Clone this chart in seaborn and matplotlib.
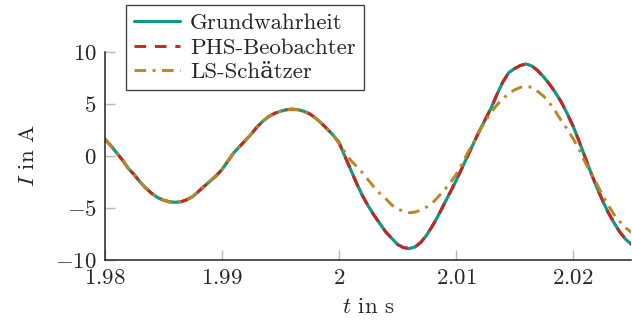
import numpy as np
import pandas as pd
import matplotlib
matplotlib.use("Agg")
import matplotlib.pyplot as plt
import seaborn as sns

# Zeitachse (0.5 ms Raster)
t = np.round(np.arange(1.980, 2.02501, 0.0005), 4)

grundwahrheit = [
    1.6, 1.0, 0.3, -0.4, -1.2, -1.8, -2.5, -3.1, -3.6, -4.0,
    -4.25, -4.4, -4.45, -4.4, -4.2, -3.9, -3.4, -2.9, -2.4, -1.9,
    -1.3, -0.5, 0.3, 0.9, 1.5, 2.1, 2.8, 3.35, 3.8, 4.1,
    4.3, 4.45, 4.5, 4.45, 4.3, 4.05, 3.65, 3.15, 2.6, 2.0,
    1.3, 0.0, -1.3, -2.6, -3.8, -4.8, -5.7, -6.5, -7.3, -7.9,
    -8.5, -8.8, -8.9, -8.75, -8.3, -7.6, -6.7, -5.7, -4.6, -3.5,
    -2.4, -1.2, 0.0, 1.2, 2.4, 3.5, 4.6, 5.9, 7.1, 8.0,
    8.4, 8.7, 8.85, 8.65, 8.2, 7.6, 6.9, 6.1, 5.2, 4.1,
    2.9, 1.5, 0.0, -1.5, -2.9, -4.2, -5.4, -6.4, -7.3, -8.0,
    -8.5,
]

phs_beobachter = list(grundwahrheit)

ls_schaetzer = [
    1.6, 1.0, 0.3, -0.4, -1.2, -1.8, -2.5, -3.1, -3.6, -4.0,
    -4.25, -4.4, -4.45, -4.4, -4.2, -3.9, -3.4, -2.9, -2.4, -1.9,
    -1.3, -0.5, 0.3, 0.9, 1.5, 2.1, 2.8, 3.35, 3.8, 4.1,
    4.3, 4.45, 4.5, 4.45, 4.3, 4.05, 3.65, 3.15, 2.6, 2.0,
    1.3, 0.4, -0.4, -1.0, -1.6, -2.3, -3.0, -3.6, -4.1, -4.7,
    -5.1, -5.3, -5.45, -5.4, -5.2, -4.9, -4.5, -3.9, -3.3, -2.6,
    -1.8, -0.8, 0.3, 1.3, 2.4, 3.3, 4.2, 4.9, 5.5, 6.0,
    6.35, 6.6, 6.7, 6.6, 6.2, 5.75, 5.1, 4.3, 3.4, 2.6,
    1.7, 0.7, -0.5, -1.6, -2.6, -3.7, -4.7, -5.6, -6.3, -6.9,
    -7.35,
]

x_ticks = [1.98, 1.99, 2.0, 2.01, 2.02]
x_ticklabels = ["$1.98$", "$1.99$", "$2$", "$2.01$", "$2.02$"]
y_ticks = [-10, -5, 0, 5, 10]
y_ticklabels = ["$-10$", "$-5$", "$0$", "$5$", "$10$"]

df = pd.DataFrame({"t": t, "wahr": grundwahrheit, "phs": phs_beobachter, "ls": ls_schaetzer})

sns.set_theme(style="white")
plt.rcParams['font.family'] = ['cmr10', 'DejaVu Serif']
plt.rcParams['mathtext.fontset'] = 'cm'
plt.rcParams['axes.unicode_minus'] = True

fs = 16.5

fig = plt.figure(figsize=(6.32, 3.24), dpi=100)
ax = fig.add_axes([0.1661, 0.1975, 0.833, 0.642])

sns.lineplot(data=df, x="t", y="wahr", ax=ax, color="#109a86", linewidth=2.3,
             label="Grundwahrheit")
sns.lineplot(data=df, x="t", y="phs", ax=ax, color="#cc2222", linewidth=2.1,
             linestyle=(0, (4, 3)), label="PHS-Beobachter")
sns.lineplot(data=df, x="t", y="ls", ax=ax, color="#bb8724", linewidth=2.1,
             linestyle=(0, (4, 2.2, 1, 2.2)), label="LS-Schätzer")

ax.set_xlim(1.98, 2.025)
ax.set_ylim(-10, 10)
ax.set_xticks(x_ticks)
ax.set_xticklabels(x_ticklabels)
ax.set_yticks(y_ticks)
ax.set_yticklabels(y_ticklabels)
ax.tick_params(axis="both", direction="in", length=7, width=1, color="#b8b8b8",
               labelsize=fs, pad=6, bottom=True, left=True)

for s in ["top", "right"]:
    ax.spines[s].set_visible(False)
for s in ["left", "bottom"]:
    ax.spines[s].set_color("#222222")
    ax.spines[s].set_linewidth(1.1)

ax.set_xlabel("$t$ in s", fontsize=fs, labelpad=7)
ax.set_ylabel("$I$ in A", fontsize=fs, labelpad=12)

leg = ax.legend(loc="upper left", bbox_to_anchor=(0.199, 0.985),
                bbox_transform=fig.transFigure, fontsize=fs, frameon=True,
                fancybox=False, edgecolor="#444444", framealpha=1,
                handlelength=2.0, handletextpad=0.45, labelspacing=0.2,
                borderpad=0.35, borderaxespad=0)
leg.get_frame().set_linewidth(1.0)

fig.savefig("out.png", dpi=100)
